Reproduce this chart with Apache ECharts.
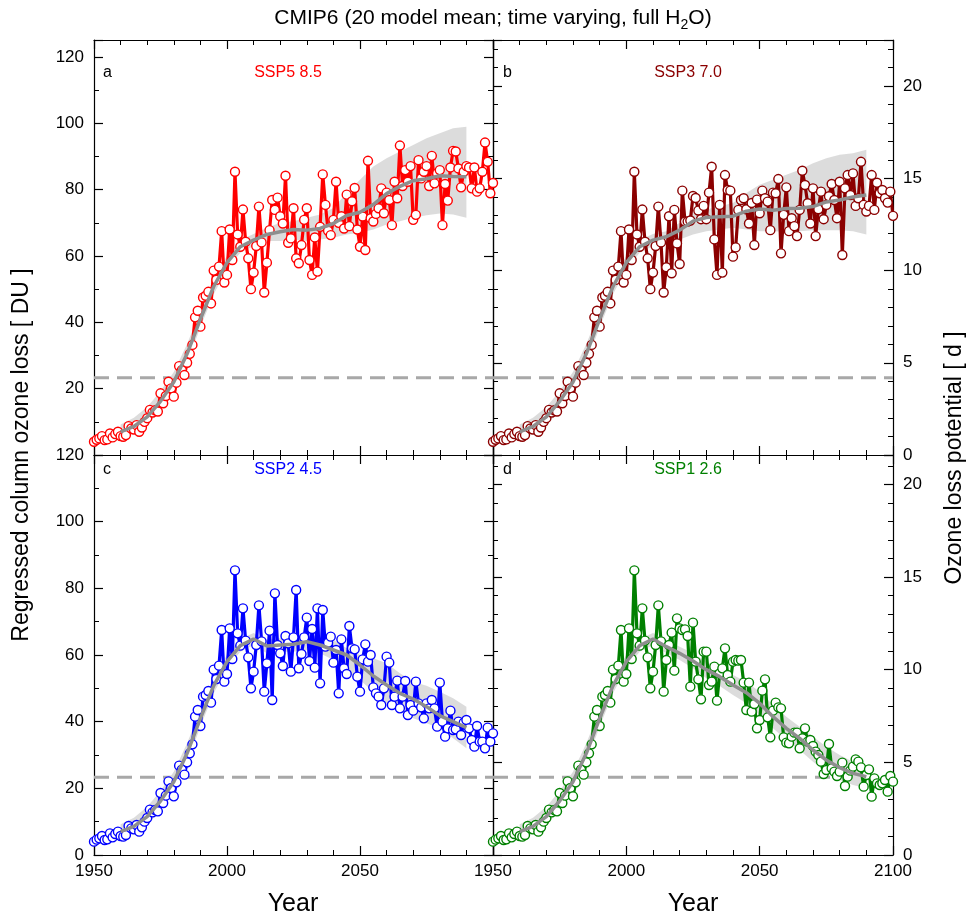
<!DOCTYPE html>
<html><head><meta charset="utf-8">
<script src="https://cdn.jsdelivr.net/npm/echarts@6/dist/echarts.min.js"></script>
<style>html,body{margin:0;padding:0;background:#fff}#c{width:969px;height:917px}</style>
</head><body><div id="c"></div>
<script>
// ---------------- data ----------------
const FIRST_YEAR = 1950, LAST_YEAR = 2100;
const DU_PER_DAY = 5.56;
const THRESHOLD_DU = 23.3;

// shared historical period 1950-2014 (DU)
const hist = [
  4.0, 4.6, 5.0, 5.7, 4.5, 4.7, 6.5, 5.3, 6.3, 7.0,
  5.7, 5.5, 6.0, 8.7, 8.0, 7.7, 9.0, 7.0, 8.3, 10.0,
  11.1, 13.6, 12.8, 13.5, 13.1, 18.6, 15.6, 17.8, 22.1, 20.1,
  17.6, 21.8, 26.8, 25.6, 24.1, 27.8, 30.5, 33.2, 41.5, 43.5,
  38.7, 47.5, 48.0, 49.2, 45.7, 55.6, 52.8, 56.8, 67.5, 52.0,
  54.3, 68.0, 58.8, 85.4, 66.5, 62.8, 74.0, 64.3, 59.3, 50.0,
  55.0, 63.0, 74.9, 64.1, 49.0
];
// scenario period 2015-2100 (DU)
const ssp585 = [
  58, 67.8, 76.9, 73.9, 77.6, 72, 69.8, 84.2, 64, 65.3,
  74.4, 59.3, 57.8, 63.3, 70.9, 74.4, 58.8, 54.3, 65.6, 55.3,
  68.8, 84.6, 75.4, 67.6, 66.3, 70.9, 82.4, 70, 72, 68.3,
  78.5, 69, 76.5, 80.5, 68, 62.8, 71.9, 61.8, 88.7, 71.4,
  70.4, 72.7, 74.4, 80.4, 72.9, 79.1, 76.9, 69.3, 82.4, 77.4,
  93.3, 81.1, 85.9, 82.4, 87.1, 70.9, 72.4, 88.9, 83.4, 85.4,
  87.1, 81.1, 90.2, 81.9, 84.9, 85.9, 69.3, 81.7, 76.7, 86.7,
  91.7, 91.5, 86.4, 80.7, 85.4, 87.1, 86.7, 80.4, 86.7, 79.4,
  80.4, 85.4, 94.2, 88.4, 78.9, 82
];
const ssp370 = [
  56.6, 72, 54.8, 73.9, 63.8, 57.6, 79.7, 70.4, 70.4, 70.7,
  78.1, 77.5, 73.7, 71.1, 75.1, 71.1, 79.1, 86.9, 65, 54.3,
  75.4, 55, 84.4, 79.9, 79.7, 59.8, 62.6, 73.9, 76.9, 77.4,
  74.1, 69.8, 76, 63.3, 77, 72.9, 79.7, 77.4, 76.4, 67.8,
  79.1, 78.9, 83.2, 60.8, 72.4, 80.7, 67.5, 71.4, 69, 66,
  73.9, 85.7, 81.4, 75.9, 69.8, 80.4, 66, 74.1, 79.4, 71.1,
  75.4, 78, 81.7, 76.9, 71.4, 82.4, 60.3, 80.4, 84.4, 78.4,
  84.9, 75.1, 77.4, 88.4, 75.4, 73.4, 75.1, 84.4, 73.9, 82.1,
  78.9, 79.9, 77.4, 76.1, 79.4, 72.1
];
const ssp245 = [
  57.5, 67.3, 46.5, 78.5, 63, 60.5, 56.7, 65.7, 63.5, 55,
  65.3, 79.5, 56, 60.3, 65.3, 71.2, 58.2, 67.8, 56.2, 74,
  51.5, 73.5, 62.5, 63.7, 65.5, 57.7, 61.5, 48.5, 64.7, 56,
  54.3, 68.7, 62, 61.7, 53.5, 49, 58.7, 63.2, 58, 60,
  50.3, 48.5, 47.5, 45, 50, 59.5, 57.7, 45, 47.5, 52.3,
  44, 47.5, 52.2, 42, 45, 43.3, 52, 45.5, 44.3, 41,
  45.5, 44, 46.5, 44, 38.5, 51.7, 40, 35.5, 38, 43.3,
  37.5, 37.7, 40, 36, 39.7, 40.5, 38, 34.5, 32.5, 38.7,
  34, 34, 32, 38.2, 34, 36.5
];
const ssp126 = [
  58.5, 63, 66.7, 55.3, 71, 68, 67.5, 67.7, 65.7, 50.5,
  69.7, 58, 52.7, 46.7, 61, 61, 51, 52, 56.5, 46.3,
  54.5, 56, 62, 54, 52, 58, 58.5, 58.3, 58.5, 51.7,
  43.5, 51.7, 43, 45.3, 38, 40.5, 49.3, 52.7, 41.3, 35.3,
  43.3, 45.7, 44.3, 44, 35.3, 33.7, 33.5, 35.5, 36.7, 36.7,
  32, 35, 38, 34, 34.5, 32.7, 31, 30, 28, 24.3,
  25.5, 33.3, 26, 25, 23.7, 25, 27.7, 20.7, 23.5, 25.3,
  26.5, 28.7, 28, 26.3, 20.5, 24, 25.7, 17.5, 23, 21.5,
  21, 21.5, 22.5, 19, 23.7, 22
];

// running mean and its spread, sampled every 5 years
const smoothYearsHist = [1960, 1965, 1970, 1975, 1980, 1985, 1990, 1995, 2000, 2005, 2010];
const smoothYearsScn  = [2015, 2020, 2025, 2030, 2035, 2040, 2045, 2050, 2055, 2060, 2065, 2070, 2075, 2080, 2085, 2090];
const smoothHist = [7.0, 8.6, 11.5, 16.2, 22, 30.5, 41, 50.8, 58, 62.8, 64.8];
const bandHiHist = [9.2, 11.2, 14.5, 19.2, 25, 33.5, 43.5, 53.3, 60, 64.8, 66.6];
const bandLoHist = [5.2, 6.4, 9, 13.4, 19.3, 27.7, 38.5, 48.5, 56, 61, 63];

const smooth585 = [66.5, 67.3, 68, 67.8, 68.3, 69.8, 72.2, 73.2, 75.5, 78.8, 81, 82.7, 83.3, 84.2, 84, 83.9];
const bandHi585 = [68.5, 70, 70.5, 71.5, 72.5, 74.5, 79, 83, 87, 89.5, 91.5, 93.5, 95.5, 97, 98.5, 99];
const bandLo585 = [64.5, 64.5, 65, 64.5, 65, 65.5, 66.5, 67, 68, 69.5, 70.5, 71.5, 72.3, 72.8, 72.5, 71.5];

const smooth370 = [65.8, 67.8, 70.5, 71.6, 71.8, 72, 73.5, 74.2, 73.8, 74.3, 74.4, 74.9, 76.3, 76.9, 77.8, 78.4];
const bandHi370 = [67.5, 70, 73, 74, 75, 76, 79, 81.5, 83, 84.5, 86, 88, 89.5, 90.5, 91, 92];
const bandLo370 = [63.5, 65, 66.5, 67.5, 68, 68.5, 68, 67.5, 67.5, 67.3, 67.5, 67.8, 67.8, 67.8, 67.5, 66.5];

const smooth245 = [62.7, 63, 63.2, 64, 63, 61.5, 60, 57, 53.7, 51, 48.5, 46.8, 44.5, 41.8, 40, 38.2];
const bandHi245 = [64.5, 65, 65.5, 66, 65.5, 64.5, 62, 60, 59, 57.5, 54.5, 52, 50.8, 49, 47, 44.5];
const bandLo245 = [60.5, 61, 61, 61.5, 60.5, 58.5, 55, 52.5, 49, 45.5, 43, 41, 39.5, 38, 35, 32];

const smooth126 = [62.5, 60.5, 58.2, 55.6, 53.5, 51, 48.7, 45.5, 41.5, 38, 35, 31.5, 28.5, 26.2, 24.5, 23.5];
const bandHi126 = [64.5, 62.5, 60.5, 58, 56.3, 54, 52, 49, 45, 41.5, 38.5, 35.5, 32.5, 30, 28, 26.5];
const bandLo126 = [60.5, 58.5, 56, 53, 50.7, 48, 45.5, 42, 38, 34.5, 31.5, 28, 25, 22.5, 21, 20];

const panelLetters = ['a', 'b', 'c', 'd'];
const panelNames = ['SSP5 8.5', 'SSP3 7.0', 'SSP2 4.5', 'SSP1 2.6'];
const panelColors = ['#ff0000', '#8b0000', '#0000ff', '#008000'];
const duTicks = [0, 20, 40, 60, 80, 100, 120];
const dayTicks = [0, 5, 10, 15, 20];
const yearTicks = [1950, 2000, 2050, 2100];

// ---------------- layout ----------------
const FONT = 'Liberation Sans, Arial, Helvetica, sans-serif';
const L = 94, MID = 493, R = 893, T = 40, YMID = 455, B = 855;
const grids = [
  {left: L, top: T, width: MID - L, height: YMID - T},
  {left: MID, top: T, width: R - MID, height: YMID - T},
  {left: L, top: YMID, width: MID - L, height: B - YMID},
  {left: MID, top: YMID, width: R - MID, height: B - YMID}
];
const duMax = [(YMID - T) / ((YMID - 57) / 120), (YMID - T) / ((YMID - 57) / 120), 120, 120];

const scen = [ssp585, ssp370, ssp245, ssp126];
const smooths = [smooth585, smooth370, smooth245, smooth126];
const his = [bandHi585, bandHi370, bandHi245, bandHi126];
const los = [bandLo585, bandLo370, bandLo245, bandLo126];

const axisLine = {show: true, onZero: false, lineStyle: {color: '#000', width: 1.2}};
const labelStyle = {color: '#000', fontFamily: FONT, fontSize: 17};

const xAxes = [], yAxes = [], series = [];

function near(v, list) { return list.some(t => Math.abs(t - v) < 1e-6); }

for (let p = 0; p < 4; p++) {
  const isBottom = p >= 2, isRight = p % 2 === 1;
  xAxes.push({
    gridIndex: p, type: 'value', position: 'bottom', min: FIRST_YEAR, max: LAST_YEAR, interval: 50,
    axisLine, splitLine: {show: false},
    axisTick: {show: true, inside: true, length: 9, lineStyle: {color: '#000', width: 1.2}},
    minorTick: {show: true, splitNumber: 5, length: 5, lineStyle: {color: '#000', width: 1}},
    axisLabel: {show: isBottom, margin: 8, ...labelStyle,
      formatter: v => (near(v, yearTicks) && !(p === 2 && v === 2100)) ? String(v) : ''}
  });
  xAxes.push({
    gridIndex: p, type: 'value', position: 'top', min: FIRST_YEAR, max: LAST_YEAR, interval: 50,
    axisLine, splitLine: {show: false},
    axisTick: {show: true, inside: true, length: 9, lineStyle: {color: '#000', width: 1.2}},
    minorTick: {show: true, splitNumber: 5, length: 5, lineStyle: {color: '#000', width: 1}},
    axisLabel: {show: false}
  });
  const dMax = duMax[p] / DU_PER_DAY;
  yAxes.push({
    gridIndex: p, type: 'value', position: 'left', min: 0, max: duMax[p], interval: 20,
    show: !isRight,
    axisLine, splitLine: {show: false},
    axisTick: {show: true, inside: true, length: 9, lineStyle: {color: '#000', width: 1.2}},
    minorTick: {show: true, splitNumber: 2, length: 5, lineStyle: {color: '#000', width: 1}},
    axisLabel: {show: !isRight, margin: 10, ...labelStyle,
      formatter: v => (near(v, duTicks) && !(p === 0 && v === 0)) ? String(v) : ''}
  });
  if (!isRight) {
    yAxes.push({
      gridIndex: p, type: 'value', position: 'right', min: 0, max: duMax[p], interval: 20,
      axisLine, splitLine: {show: false},
      axisTick: {show: true, inside: true, length: 9, lineStyle: {color: '#000', width: 1.2}},
      minorTick: {show: true, splitNumber: 2, length: 5, lineStyle: {color: '#000', width: 1}},
      axisLabel: {show: false}
    });
  } else {
    yAxes.push({
      gridIndex: p, type: 'value', position: 'left', min: 0, max: dMax, interval: 5,
      axisLine, splitLine: {show: false},
      axisTick: {show: true, inside: true, length: 9, lineStyle: {color: '#000', width: 1.2}},
      minorTick: {show: true, splitNumber: 5, length: 5, lineStyle: {color: '#000', width: 1}},
      axisLabel: {show: false}
    });
    yAxes.push({
      gridIndex: p, type: 'value', position: 'right', min: 0, max: dMax, interval: 5,
      axisLine, splitLine: {show: false},
      axisTick: {show: true, inside: true, length: 9, lineStyle: {color: '#000', width: 1.2}},
      minorTick: {show: true, splitNumber: 5, length: 5, lineStyle: {color: '#000', width: 1}},
      axisLabel: {show: true, margin: 10, ...labelStyle,
        formatter: v => near(v, dayTicks) ? String(v) : ''}
    });
  }
}

const duAxisIndex = [0, 2, 5, 7];

for (let p = 0; p < 4; p++) {
  const xi = 2 * p, yi = duAxisIndex[p];
  const values = hist.concat(scen[p]);
  const data = values.map((v, i) => [FIRST_YEAR + i, v]);
  const sYears = smoothYearsHist.concat(smoothYearsScn);
  const sVals = smoothHist.concat(smooths[p]);
  const hi = bandHiHist.concat(his[p]);
  const lo = bandLoHist.concat(los[p]);

  series.push({
    type: 'line', xAxisIndex: xi, yAxisIndex: yi, z: 1, silent: true, symbol: 'none',
    data: [[FIRST_YEAR, THRESHOLD_DU], [LAST_YEAR, THRESHOLD_DU]],
    lineStyle: {color: '#a8a8a8', width: 3, type: [15, 8]}
  });
  series.push({
    type: 'custom', xAxisIndex: xi, yAxisIndex: yi, z: 2, silent: true,
    data: [[sYears[0], sVals[0]]],
    renderItem: (params, api) => {
      const pts = [];
      for (let i = 0; i < sYears.length; i++) pts.push(api.coord([sYears[i], hi[i]]));
      for (let i = sYears.length - 1; i >= 0; i--) pts.push(api.coord([sYears[i], lo[i]]));
      return {type: 'polygon', shape: {points: pts}, style: {fill: '#dadada', opacity: 0.95}};
    }
  });
  series.push({
    type: 'line', xAxisIndex: xi, yAxisIndex: yi, z: 3, silent: true,
    data, symbol: 'circle', symbolSize: 9, showAllSymbol: true,
    lineStyle: {color: panelColors[p], width: 3.2},
    itemStyle: {color: '#fff', borderColor: panelColors[p], borderWidth: 1.4}
  });
  series.push({
    type: 'line', xAxisIndex: xi, yAxisIndex: yi, z: 4, silent: true, symbol: 'none',
    data: sYears.map((y, i) => [y, sVals[i]]),
    lineStyle: {color: '#8e8e8e', width: 3.5}
  });
}

// ---------------- texts ----------------
const graphics = [];
const titleFont = 'normal 21px ' + FONT;
const subFont = 'normal 14px ' + FONT;
const ctx = document.createElement('canvas').getContext('2d');
function tw(s, f) { ctx.font = f; return ctx.measureText(s).width; }
const t1 = 'CMIP6 (20 model mean; time varying, full H', t2 = '2', t3 = 'O)';
const w1 = tw(t1, titleFont), w2 = tw(t2, subFont), w3 = tw(t3, titleFont);
let tx = 493 - (w1 + w2 + w3) / 2;
graphics.push({type: 'text', x: tx, y: 18, style: {text: t1, font: titleFont, fill: '#000', verticalAlign: 'middle'}});
graphics.push({type: 'text', x: tx + w1, y: 25, style: {text: t2, font: subFont, fill: '#000', verticalAlign: 'middle'}});
graphics.push({type: 'text', x: tx + w1 + w2, y: 18, style: {text: t3, font: titleFont, fill: '#000', verticalAlign: 'middle'}});

const letterPos = [[103, 73], [503, 73], [103, 470], [503, 470]];
const namePos = [[288, 73], [688, 73], [288, 470], [688, 470]];
for (let p = 0; p < 4; p++) {
  graphics.push({type: 'text', x: letterPos[p][0], y: letterPos[p][1],
    style: {text: panelLetters[p], font: 'normal 16px ' + FONT, fill: '#000', verticalAlign: 'middle'}});
  graphics.push({type: 'text', x: namePos[p][0], y: namePos[p][1],
    style: {text: panelNames[p], font: 'normal 16px ' + FONT, fill: panelColors[p], align: 'center', verticalAlign: 'middle'}});
}
graphics.push({type: 'text', x: 22, y: 455, rotation: Math.PI / 2,
  style: {text: 'Regressed column ozone loss [ DU ]', font: 'normal 23px ' + FONT, fill: '#000', align: 'center', verticalAlign: 'middle'}});
graphics.push({type: 'text', x: 955, y: 458, rotation: Math.PI / 2,
  style: {text: 'Ozone loss potential [ d ]', font: 'normal 23px ' + FONT, fill: '#000', align: 'center', verticalAlign: 'middle'}});
graphics.push({type: 'text', x: 293, y: 904,
  style: {text: 'Year', font: 'normal 25px ' + FONT, fill: '#000', align: 'center', verticalAlign: 'middle'}});
graphics.push({type: 'text', x: 693, y: 904,
  style: {text: 'Year', font: 'normal 25px ' + FONT, fill: '#000', align: 'center', verticalAlign: 'middle'}});

const chart = echarts.init(document.getElementById('c'), null, {renderer: 'canvas'});
chart.setOption({
  animation: false,
  backgroundColor: '#fff',
  grid: grids.map(g => ({...g, containLabel: false})),
  xAxis: xAxes,
  yAxis: yAxes,
  series,
  graphic: graphics
});
</script>
</body></html>
